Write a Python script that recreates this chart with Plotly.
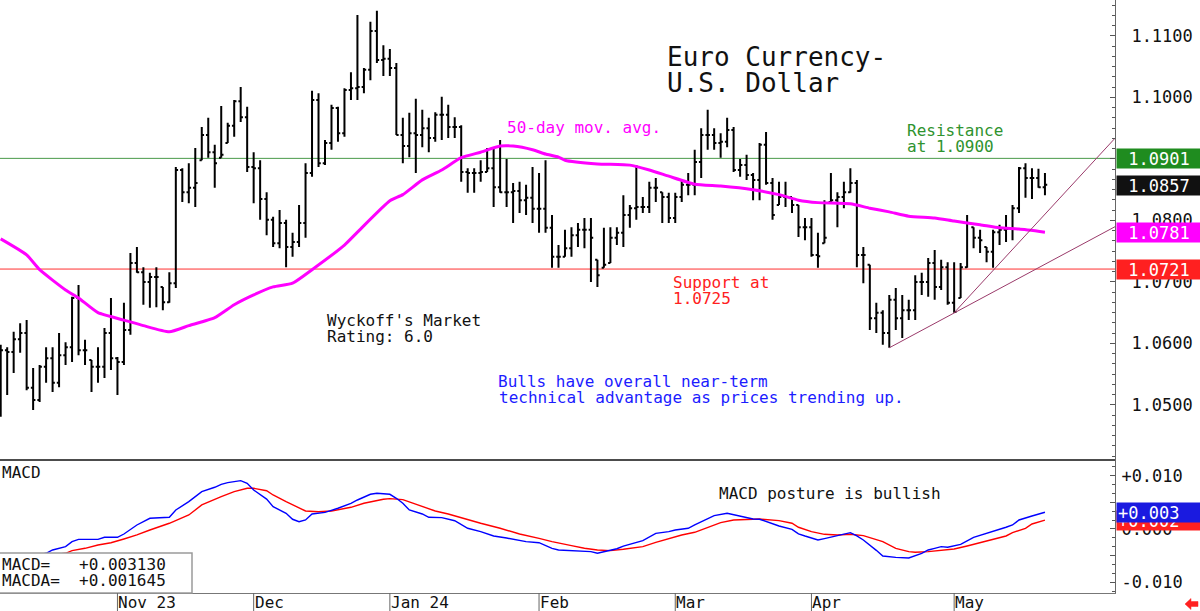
import plotly.graph_objects as go

# ---------------- data ----------------
highs = [1.0598, 1.0594, 1.0619, 1.0633, 1.0638, 1.0560, 1.0565, 1.0594, 1.0594, 1.0617,
         1.0602, 1.0676, 1.0695, 1.0606, 1.0573, 1.0594, 1.0625, 1.0674, 1.0578, 1.0666,
         1.0747, 1.0757, 1.0724, 1.0715, 1.0724, 1.0692, 1.0716, 1.0887, 1.0885, 1.0893,
         1.0918, 1.0952, 1.0967, 1.0923, 1.0986, 1.0959, 1.0996, 1.1017, 1.0985, 1.0911,
         1.0898, 1.0846, 1.0806, 1.0817, 1.0801, 1.0780, 1.0825, 1.0893, 1.1011, 1.1007,
         1.0931, 1.0988, 1.0985, 1.1015, 1.1041, 1.1134, 1.1048, 1.1123, 1.1141, 1.1085,
         1.1079, 1.1056, 1.0967, 1.0975, 1.0998, 1.0980, 1.0967, 1.0976, 1.1001, 1.0988,
         1.0968, 1.0955, 1.0885, 1.0885, 1.0898, 1.0918, 1.0918, 1.0931, 1.0900, 1.0861,
         1.0863, 1.0858, 1.0887, 1.0877, 1.0898, 1.0809, 1.0760, 1.0785, 1.0789, 1.0796,
         1.0804, 1.0804, 1.0736, 1.0788, 1.0789, 1.0789, 1.0841, 1.0825, 1.0890, 1.0838,
         1.0863, 1.0869, 1.0846, 1.0845, 1.0845, 1.0866, 1.0877, 1.0915, 1.0950, 1.0980,
         1.0950, 1.0942, 1.0967, 1.0952, 1.0900, 1.0907, 1.0877, 1.0926, 1.0944, 1.0869,
         1.0863, 1.0863, 1.0838, 1.0825, 1.0804, 1.0804, 1.0780, 1.0833, 1.0877, 1.0846,
         1.0863, 1.0885, 1.0866, 1.0757, 1.0728, 1.0666, 1.0654, 1.0679, 1.0690, 1.0679,
         1.0671, 1.0711, 1.0715, 1.0739, 1.0752, 1.0736, 1.0732, 1.0732, 1.0731, 1.0809,
         1.0789, 1.0785, 1.0757, 1.0785, 1.0793, 1.0809, 1.0825, 1.0887, 1.0893, 1.0885,
         1.0884, 1.0877]

lows = [1.0481, 1.0516, 1.0552, 1.0585, 1.0524, 1.0492, 1.0505, 1.0536, 1.0521, 1.0529,
        1.0565, 1.0570, 1.0581, 1.0565, 1.0521, 1.0536, 1.0544, 1.0557, 1.0516, 1.0565,
        1.0614, 1.0715, 1.0663, 1.0658, 1.0659, 1.0654, 1.0666, 1.0690, 1.0830, 1.0828,
        1.0822, 1.0898, 1.0902, 1.0853, 1.0902, 1.0926, 1.0936, 1.0960, 1.0879, 1.0828,
        1.0801, 1.0776, 1.0757, 1.0755, 1.0724, 1.0741, 1.0757, 1.0772, 1.0871, 1.0887,
        1.0890, 1.0915, 1.0928, 1.0936, 1.0996, 1.0996, 1.1007, 1.1028, 1.1056, 1.1035,
        1.1035, 1.0939, 1.0893, 1.0903, 1.0877, 1.0919, 1.0911, 1.0928, 1.0931, 1.0934,
        1.0934, 1.0863, 1.0845, 1.0845, 1.0863, 1.0879, 1.0822, 1.0845, 1.0822, 1.0796,
        1.0812, 1.0809, 1.0796, 1.0780, 1.0780, 1.0723, 1.0723, 1.0741, 1.0741, 1.0757,
        1.0755, 1.0700, 1.0692, 1.0723, 1.0731, 1.0760, 1.0757, 1.0788, 1.0801, 1.0812,
        1.0812, 1.0830, 1.0796, 1.0796, 1.0796, 1.0830, 1.0841, 1.0841, 1.0869, 1.0915,
        1.0915, 1.0902, 1.0919, 1.0879, 1.0871, 1.0866, 1.0833, 1.0833, 1.0858, 1.0801,
        1.0825, 1.0822, 1.0812, 1.0773, 1.0768, 1.0741, 1.0723, 1.0763, 1.0830, 1.0789,
        1.0820, 1.0845, 1.0724, 1.0698, 1.0622, 1.0617, 1.0598, 1.0593, 1.0622, 1.0609,
        1.0638, 1.0638, 1.0679, 1.0676, 1.0671, 1.0687, 1.0663, 1.0650, 1.0674, 1.0723,
        1.0755, 1.0747, 1.0732, 1.0723, 1.0760, 1.0765, 1.0768, 1.0812, 1.0837, 1.0835,
        1.0853, 1.0841]

closes = [1.0589, 1.0586, 1.0607, 1.0617, 1.0528, 1.0508, 1.0562, 1.0576, 1.0536, 1.0581,
          1.0594, 1.0674, 1.0589, 1.0589, 1.0562, 1.0562, 1.0617, 1.0576, 1.0570, 1.0622,
          1.0731, 1.0716, 1.0700, 1.0708, 1.0708, 1.0667, 1.0698, 1.0882, 1.0846, 1.0853,
          1.0861, 1.0939, 1.0911, 1.0893, 1.0907, 1.0954, 1.0994, 1.0968, 1.0887, 1.0885,
          1.0835, 1.0801, 1.0763, 1.0796, 1.0757, 1.0765, 1.0796, 1.0877, 1.0996, 1.0893,
          1.0926, 1.0983, 1.0942, 1.1012, 1.1015, 1.1017, 1.1045, 1.1108, 1.1061, 1.1063,
          1.1048, 1.0939, 1.0921, 1.0942, 1.0939, 1.0950, 1.0934, 1.0972, 1.0972, 1.0952,
          1.0952, 1.0879, 1.0877, 1.0877, 1.0879, 1.0885, 1.0854, 1.0846, 1.0846, 1.0848,
          1.0833, 1.0837, 1.0819, 1.0819, 1.0788, 1.0741, 1.0741, 1.0755, 1.0776, 1.0785,
          1.0785, 1.0772, 1.0711, 1.0728, 1.0772, 1.0780, 1.0809, 1.0820, 1.0822, 1.0822,
          1.0853, 1.0853, 1.0838, 1.0804, 1.0838, 1.0858, 1.0858, 1.0895, 1.0939, 1.0939,
          1.0926, 1.0928, 1.0947, 1.0882, 1.0890, 1.0874, 1.0866, 1.0923, 1.0861, 1.0809,
          1.0838, 1.0838, 1.0825, 1.0789, 1.0789, 1.0744, 1.0742, 1.0772, 1.0833, 1.0838,
          1.0846, 1.0861, 1.0744, 1.0744, 1.0641, 1.0650, 1.0617, 1.0671, 1.0641, 1.0654,
          1.0654, 1.0700, 1.0700, 1.0731, 1.0692, 1.0724, 1.0666, 1.0651, 1.0724, 1.0796,
          1.0772, 1.0768, 1.0749, 1.0781, 1.0785, 1.0786, 1.0820, 1.0885, 1.0869, 1.0869,
          1.0854, 1.0858]

opens = [1.0560, 1.0589, 1.0586, 1.0607, 1.0617, 1.0528, 1.0508, 1.0562, 1.0576, 1.0536,
         1.0581, 1.0594, 1.0674, 1.0589, 1.0573, 1.0562, 1.0562, 1.0617, 1.0576, 1.0570,
         1.0622, 1.0731, 1.0716, 1.0700, 1.0708, 1.0692, 1.0667, 1.0698, 1.0882, 1.0846,
         1.0853, 1.0898, 1.0939, 1.0911, 1.0902, 1.0926, 1.0954, 1.0994, 1.0968, 1.0887,
         1.0885, 1.0835, 1.0801, 1.0763, 1.0796, 1.0757, 1.0765, 1.0796, 1.0877, 1.0996,
         1.0893, 1.0926, 1.0983, 1.0942, 1.1012, 1.1015, 1.1017, 1.1045, 1.1108, 1.1061,
         1.1063, 1.1048, 1.0939, 1.0921, 1.0942, 1.0939, 1.0950, 1.0934, 1.0972, 1.0972,
         1.0952, 1.0952, 1.0879, 1.0877, 1.0877, 1.0879, 1.0885, 1.0854, 1.0846, 1.0846,
         1.0848, 1.0833, 1.0837, 1.0819, 1.0819, 1.0788, 1.0741, 1.0741, 1.0755, 1.0776,
         1.0785, 1.0785, 1.0736, 1.0723, 1.0731, 1.0772, 1.0780, 1.0809, 1.0820, 1.0822,
         1.0822, 1.0853, 1.0846, 1.0838, 1.0804, 1.0838, 1.0858, 1.0858, 1.0895, 1.0939,
         1.0939, 1.0926, 1.0928, 1.0947, 1.0882, 1.0890, 1.0874, 1.0866, 1.0923, 1.0861,
         1.0825, 1.0838, 1.0838, 1.0825, 1.0789, 1.0789, 1.0744, 1.0763, 1.0830, 1.0833,
         1.0838, 1.0846, 1.0861, 1.0744, 1.0728, 1.0641, 1.0650, 1.0617, 1.0671, 1.0641,
         1.0654, 1.0654, 1.0700, 1.0700, 1.0731, 1.0692, 1.0724, 1.0666, 1.0674, 1.0724,
         1.0789, 1.0772, 1.0757, 1.0749, 1.0781, 1.0785, 1.0786, 1.0820, 1.0885, 1.0869,
         1.0869, 1.0854]

# 50-day moving average, sampled along its drawn path (bar index -> value)
ma_idx = [0, 4, 6, 10, 12, 15, 19, 22, 26, 29, 33, 36, 39, 42, 45, 48, 53, 55, 60, 62,
          65, 68, 71, 74, 77, 79, 82, 84, 86, 87, 92, 97, 100, 103, 107, 111, 116, 120, 123, 126,
          131, 134, 137, 140, 144, 147, 151, 154, 157, 161]
ma_vals = [1.0770, 1.0744, 1.0720, 1.0687, 1.0674, 1.0650, 1.0638, 1.0629, 1.0619, 1.0629,
           1.0642, 1.0663, 1.0679, 1.0692, 1.0698, 1.0720, 1.0760, 1.0781, 1.0832, 1.0842,
           1.0866, 1.0882, 1.0902, 1.0911, 1.0921, 1.0921, 1.0915, 1.0908, 1.0903, 1.0898,
           1.0892, 1.0890, 1.0882, 1.0872, 1.0859, 1.0856, 1.0850, 1.0842, 1.0833, 1.0829,
           1.0827, 1.0820, 1.0814, 1.0807, 1.0804, 1.0799, 1.0793, 1.0788, 1.0786, 1.0781]

macd_idx = [0, 7, 8, 10, 11, 12, 15, 16, 18, 19, 21, 23, 26, 27, 29, 31, 33, 34, 35, 37,
            38, 39, 41, 42, 44, 45, 46, 47, 48, 50, 52, 54, 55, 57, 58, 60, 61, 62, 63, 65,
            66, 68, 70, 72, 74, 76, 78, 81, 83, 85, 86, 89, 91, 92, 93, 95, 96, 99, 101, 103,
            104, 106, 107, 109, 110, 112, 114, 116, 117, 118, 120, 122, 123, 124, 126, 127, 129, 131, 132, 133,
            135, 136, 138, 140, 142, 143, 144, 145, 146, 148, 150, 152, 154, 155, 156, 157, 159, 160, 161]
macd_vals = [-0.0065, -0.00455, -0.00393, -0.00331, -0.00237, -0.00194, -0.00194, -0.00156, -0.00156, -0.00094,
             0.00075, 0.00200, 0.00219, 0.00356, 0.00512, 0.00699, 0.00781, 0.00837, 0.00868, 0.00905,
             0.00856, 0.00730, 0.00560, 0.00418, 0.00294, 0.00182, 0.00137, 0.00169, 0.00281, 0.00310,
             0.00388, 0.00481, 0.00543, 0.00650, 0.00668, 0.00650, 0.00575, 0.00481, 0.00356, 0.00281,
             0.00219, 0.00212, 0.00155, 0.00013, -0.00050, -0.00131, -0.00170, -0.00237, -0.00257, -0.00362,
             -0.00393, -0.00406, -0.00425, -0.00455, -0.00425, -0.00370, -0.00320, -0.00219, -0.00081, -0.00050,
             -0.00019, 0.00013, 0.00075, 0.00200, 0.00250, 0.00294, 0.00244, 0.00187, 0.00182, 0.00137,
             0.00056, -0.00006, -0.00090, -0.00131, -0.00206, -0.00180, -0.00131, -0.00069, -0.00131, -0.00206,
             -0.00400, -0.00506, -0.00531, -0.00543, -0.00456, -0.00393, -0.00362, -0.00331, -0.00343, -0.00287,
             -0.00156, -0.00081, -0.00019, 0.00032, 0.00075, 0.00169, 0.00244, 0.00281, 0.00313]

macda_idx = [0, 10, 11, 13, 15, 17, 19, 21, 23, 26, 29, 31, 34, 36, 38, 39, 41, 42, 44, 46,
             47, 49, 51, 54, 56, 59, 60, 62, 64, 66, 67, 69, 72, 74, 77, 80, 83, 85, 88, 90,
             92, 94, 96, 99, 101, 103, 105, 107, 109, 111, 113, 115, 117, 120, 122, 123, 125, 127, 129, 131,
             133, 136, 138, 140, 141, 143, 145, 147, 149, 151, 153, 155, 156, 158, 159, 161]
macda_vals = [-0.0060, -0.00455, -0.00406, -0.00362, -0.00300, -0.00257, -0.00187, -0.00112, -0.00019, 0.00107,
              0.00262, 0.00450, 0.00605, 0.00699, 0.00762, 0.00762, 0.00717, 0.00637, 0.00512, 0.00388,
              0.00337, 0.00324, 0.00337, 0.00406, 0.00481, 0.00556, 0.00568, 0.00550, 0.00468, 0.00388,
              0.00337, 0.00281, 0.00169, 0.00107, 0.00013, -0.00094, -0.00175, -0.00237, -0.00312, -0.00362,
              -0.00393, -0.00406, -0.00380, -0.00331, -0.00250, -0.00175, -0.00112, -0.00062, 0.00032, 0.00118,
              0.00169, 0.00182, 0.00187, 0.00156, 0.00107, 0.00032, -0.00050, -0.00100, -0.00112, -0.00100,
              -0.00125, -0.00237, -0.00362, -0.00425, -0.00437, -0.00425, -0.00406, -0.00375, -0.00318, -0.00257,
              -0.00194, -0.00131, -0.00069, 0.00013, 0.00094, 0.00165]

# trend lines: (start index, start price, end index, end price)
trend_lower = [137, 1.0593, 172, 1.0791]
trend_steep = [147, 1.0650, 172, 1.0936]

resistance = 1.0901
support = 1.0721
last_close = 1.0857
last_ma = 1.0781
last_macd = 0.003130
last_macda = 0.001645

months = ["Nov 23", "Dec", "Jan 24", "Feb", "Mar", "Apr", "May"]
month_start = [18, 39, 60, 83, 104, 125, 147]

# ---------------- layout constants ----------------
FONT = "DejaVu Sans Mono"
W, H = 1200, 611
ML, MR, MT, MB = 0, 85, 0, 18
PW, PH = W - ML - MR, H - MT - MB
SPLIT = 1 - 460 / PH
XMIN, XMAX = -0.108, 171.8


def pxx(p):
    return p / PW


def pxy(p):
    return 1 - p / PH


x = list(range(len(closes)))

fig = go.Figure()
fig.add_trace(go.Ohlc(
    x=x, open=opens, high=highs, low=lows, close=closes,
    increasing=dict(line=dict(color="black", width=2)),
    decreasing=dict(line=dict(color="black", width=2)),
    tickwidth=0.35, xaxis="x", yaxis="y", hoverinfo="skip", showlegend=False))

fig.add_trace(go.Scatter(x=ma_idx, y=ma_vals, mode="lines",
                         line=dict(color="#ff00ff", width=3, shape="spline", smoothing=0.5),
                         xaxis="x", yaxis="y", hoverinfo="skip", showlegend=False))

for tl in (trend_lower, trend_steep):
    fig.add_trace(go.Scatter(x=[tl[0], tl[2]], y=[tl[1], tl[3]], mode="lines",
                             line=dict(color="#9a3a6a", width=1),
                             xaxis="x", yaxis="y", hoverinfo="skip", showlegend=False))

fig.add_trace(go.Scatter(x=macda_idx, y=macda_vals, mode="lines",
                         line=dict(color="#ff0000", width=1.4),
                         xaxis="x2", yaxis="y2", hoverinfo="skip", showlegend=False))
fig.add_trace(go.Scatter(x=macd_idx, y=macd_vals, mode="lines",
                         line=dict(color="#0000ff", width=1.4),
                         xaxis="x2", yaxis="y2", hoverinfo="skip", showlegend=False))

shapes = [
    dict(type="line", xref="paper", yref="y", x0=0, x1=1, y0=resistance, y1=resistance,
         line=dict(color="#4a9a4a", width=1), layer="below"),
    dict(type="line", xref="paper", yref="y", x0=0, x1=1, y0=support, y1=support,
         line=dict(color="#ff3030", width=1), layer="below"),
    dict(type="line", xref="paper", yref="paper", x0=0, x1=1, y0=SPLIT, y1=SPLIT,
         line=dict(color="#111111", width=1.5)),
    # MACD readout box
    dict(type="rect", xref="paper", yref="paper", x0=-0.002, x1=pxx(192), y0=0, y1=pxy(553),
         line=dict(color="#9a9a9a", width=1.5), fillcolor="white", layer="above"),
    # small red arrow bottom-right
    dict(type="path", xref="paper", yref="paper",
         path=f"M {pxx(1185)},{pxy(604)} L {pxx(1191)},{pxy(598.5)} L {pxx(1191)},{pxy(601.5)} "
              f"L {pxx(1198)},{pxy(601.5)} L {pxx(1198)},{pxy(606.5)} L {pxx(1191)},{pxy(606.5)} "
              f"L {pxx(1191)},{pxy(609.5)} Z",
         fillcolor="#ff2020", line=dict(color="#ff2020", width=0.5)),
]
for ms in month_start:
    shapes.append(dict(type="line", xref="x2", yref="paper", x0=ms, x1=ms, y0=0, y1=pxy(611),
                       line=dict(color="#666666", width=1)))

annotations = []


def txt(t, xp, yp, color="#111111", size=16):
    annotations.append(dict(text=t, x=pxx(xp), y=pxy(yp), xref="paper", yref="paper",
                            xanchor="left", yanchor="middle", showarrow=False,
                            font=dict(family=FONT, size=size, color=color)))


txt("Euro Currency-", 665, 57, size=26)
txt("U.S. Dollar", 665, 83, size=26)
txt("50-day mov. avg.", 505, 127, color="#ff00ff")
txt("Resistance", 905, 130, color="#2f932f")
txt("at 1.0900", 905, 146, color="#2f932f")
txt("Support at", 671, 282, color="#ff2020")
txt("1.0725", 671, 298, color="#ff2020")
txt("Wyckoff's Market", 325, 320)
txt("Rating: 6.0", 325, 336)
txt("Bulls have overall near-term", 496, 381, color="#1c1cff")
txt("technical advantage as prices trending up.", 497, 397, color="#1c1cff")
txt("MACD posture is bullish", 717, 493)
txt("MACD", 0, 472)
txt("MACD=\u00a0\u00a0\u00a0+0.003130", 0, 564)
txt("MACDA=\u00a0\u00a0+0.001645", 0, 580)

for lab, ms in zip(months, month_start):
    annotations.append(dict(text=lab, x=ms, xref="x2", y=pxy(611), yref="paper",
                            xanchor="left", yanchor="bottom", xshift=0, yshift=-2, showarrow=False,
                            borderpad=0,
                            font=dict(family=FONT, size=16, color="#111111")))


def box(val, yref, label, bg, lead=True):
    annotations.append(dict(text=("\u00a0" if lead else "") + label, x=1, xref="paper", xanchor="left",
                            xshift=1, y=val, yref=yref, yanchor="middle", showarrow=False,
                            width=81, height=17, align="left", valign="middle", borderpad=1,
                            bgcolor=bg, font=dict(family=FONT, size=17, color="white")))


box(resistance, "y", f"{resistance:.4f}", "#1f8c1f")
box(last_close, "y", f"{last_close:.4f}", "#111111")
box(last_ma, "y", f"{last_ma:.4f}", "#ff00ff")
box(support, "y", f"{support:.4f}", "#ff2020")
box(last_macda, "y2", f"{last_macda:+.3f}", "#ff2020", lead=False)
box(last_macd, "y2", f"{last_macd:+.3f}", "#1a1ae0", lead=False)

axis_font = dict(family=FONT, size=17, color="#111111")

fig.update_layout(
    width=W, height=H,
    margin=dict(l=ML, r=MR, t=MT, b=MB),
    paper_bgcolor="white", plot_bgcolor="white",
    showlegend=False,
    shapes=shapes, annotations=annotations,
    xaxis=dict(domain=[0, 1], anchor="y", range=[XMIN, XMAX], showticklabels=False, ticks="",
               showgrid=False, zeroline=False, showline=False, rangeslider=dict(visible=False)),
    xaxis2=dict(domain=[0, 1], anchor="y2", range=[XMIN, XMAX], matches="x", showticklabels=False,
                ticks="", showgrid=False, zeroline=False, showline=True, linecolor="#777777", linewidth=1),
    yaxis=dict(domain=[SPLIT, 1], anchor="x", side="right", range=[1.04105, 1.11585],
               tickmode="linear", tick0=1.05, dtick=0.01, tickformat=".4f",
               ticks="inside", ticklen=5, tickcolor="#555555", showline=True, linecolor="#666666",
               showgrid=False, zeroline=False, tickfont=axis_font, ticklabelstandoff=12,
               minor=dict(ticks="inside", ticklen=3, tick0=1.05, dtick=0.01 / 6,
                          tickcolor="#555555", showgrid=False)),
    yaxis2=dict(domain=[0, SPLIT], anchor="x2", side="right", range=[-0.01199, 0.01292],
                tickmode="array", tickvals=[-0.01, -0.005, 0, 0.005, 0.01],
                ticktext=["-0.010", "", "0.000", "", "+0.010"],
                ticks="inside", ticklen=5, tickcolor="#555555", showline=True, linecolor="#666666",
                showgrid=False, zeroline=False, tickfont=axis_font, ticklabelstandoff=2,
                minor=dict(ticks="inside", ticklen=3, tick0=0, dtick=0.005 / 3,
                           tickcolor="#555555", showgrid=False)),
)

fig.write_html("out.html", config={"displayModeBar": False})
